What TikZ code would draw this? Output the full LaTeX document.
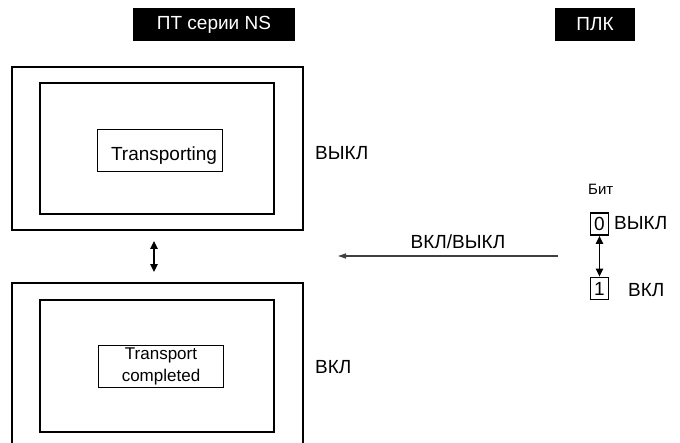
\documentclass[tikz,border=0pt]{standalone}
\usepackage{fontspec}
\setmainfont{Liberation Sans}
\usepackage{tikz}
\usetikzlibrary{arrows.meta}
\tikzset{
  header box/.style={
    fill=black,
    text=white,
    inner sep=0pt,
    font=\fontsize{19}{22}\selectfont
  },
  screen frame/.style={
    draw,
    line width=1.8pt,
    inner sep=0pt
  },
  msg box/.style={
    draw,
    line width=0.8pt,
    inner sep=0pt,
    minimum width=125pt,
    minimum height=42pt,
    font=\fontsize{19}{22}\selectfont
  },
  state label/.style={
    inner sep=0pt,
    font=\fontsize{19}{22}\selectfont
  },
  bit box/.style={
    draw,
    line width=1.6pt,
    inner sep=0pt,
    minimum width=18pt,
    minimum height=22pt,
    font=\fontsize{19}{22}\selectfont
  },
  sync arrow/.style={
    {Triangle[length=8pt,width=7pt]}-{Triangle[length=8pt,width=7pt]},
    line width=2pt
  },
  signal arrow/.style={
    -{Triangle[length=8pt,width=5pt]},
    line width=1.3pt,
    color=black!75
  }
}

\begin{document}
\begin{tikzpicture}[x=1pt, y=-1pt]
    % 1 px = 1 pt, y downwards
    \clip (0,0) rectangle (680,443);
    \fill[white] (0,0) rectangle (680,443);

    % headers
    \node[header box, minimum width=162pt, minimum height=33pt] (hdrpt) at (214,24.5) {ПТ серии NS};
    \node[header box, minimum width=80pt, minimum height=33pt] (hdrplc) at (595,24.5) {ПЛК};

    % screen while transporting
    \node[screen frame, minimum width=291pt, minimum height=163pt] (topscreen) at (157.5,148.5) {};
    \node[screen frame, minimum width=234pt, minimum height=131pt] (topinner) at (157,148.5) {};
    \node[msg box] (busymsg) at (160,150) {\hspace*{8pt}\raisebox{-6pt}[\height][\depth]{Transporting}};
    \node[state label, anchor=west] (offlabel) at (315,153) {ВЫКЛ};

    % screen after transport
    \node[screen frame, minimum width=291pt, minimum height=170pt] (botscreen) at (157.5,368) {};
    \node[screen frame, minimum width=234pt, minimum height=132pt] (botinner) at (157,366) {};
    \node[msg box, align=center, font=\fontsize{17}{22}\selectfont] (donemsg) at (161,366.5) {Transport\\completed};
    \node[state label, anchor=west] (onlabel) at (315,367) {ВКЛ};

    \draw[sync arrow, shorten <=10pt, shorten >=10pt] ([xshift=-3.5pt]topscreen.south) -- ([xshift=-3.5pt]botscreen.north);

    % PLC bit
    \node[state label, anchor=west, font=\fontsize{15}{18}\selectfont] (bitlabel) at (588,189) {Бит};
    \node[bit box] (bitzero) at (599.5,224) {0};
    \node[bit box] (bitone) at (599.5,288.5) {1};
    \node[state label, anchor=west] (bitoff) at (614,223) {ВЫКЛ};
    \node[state label, anchor=west] (biton) at (628,290) {ВКЛ};
    \draw[sync arrow, line width=1.8pt] (bitzero) -- (bitone);

    % signal to the PT
    \coordinate (sigstart) at (558,256);
    \coordinate (sigend) at (338,256);
    \draw[signal arrow] (sigstart) -- (sigend);
    \node[state label] (siglabel) at (458,242) {ВКЛ/ВЫКЛ};

\end{tikzpicture}
\end{document}
